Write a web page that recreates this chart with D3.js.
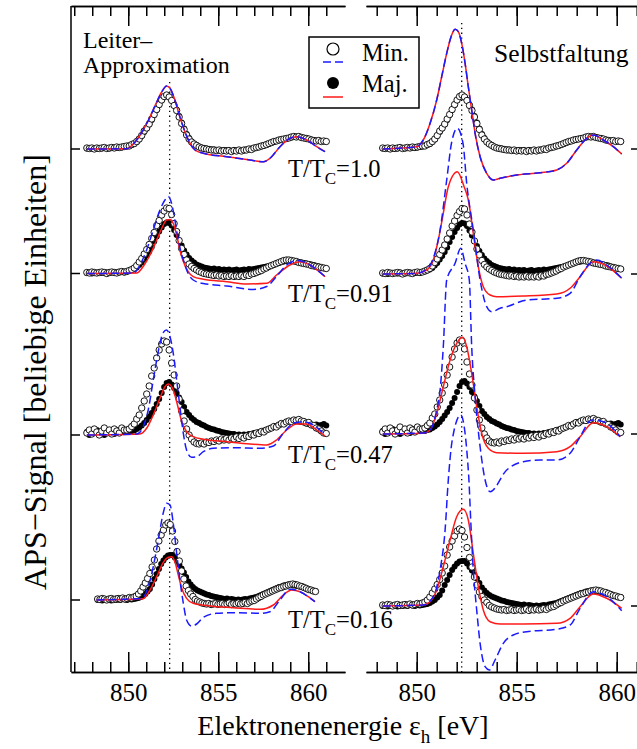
<!DOCTYPE html>
<html><head><meta charset="utf-8">
<script src="https://cdn.jsdelivr.net/npm/d3@7"></script>
<style>
body{margin:0;background:#fff}
svg{display:block}
text{font-family:"Liberation Serif","Times New Roman",serif;fill:#000}
</style>
</head><body>
<svg id="c" width="637" height="749"></svg>
<script>
// ---------------- DATA ----------------
const rowLabels = ["1.0", "0.91", "0.47", "0.16"];
const rowOffsetsLeft = [52.3, 39.85, 23.7, 7.2];
const rowOffsetsRight = [52.3, 39.8, 23.8, 6.6];
const majorTicks = [850, 855, 860];
const minorTicksLeft = [847,848,849,850,851,852,853,854,855,856,857,858,859,860,861];
const minorTicksRight = [848,849,850,851,852,853,854,855,856,857,858,859,860,861];
const refEnergyLeft = 852.3, refEnergyRight = 852.25;
// energy span of the measured points (first, last point) per row
const expRangeLeft = [[847.7, 861.0], [847.7, 861.0], [847.7, 861.0], [848.3, 860.4]];
const expRangeRight = [[848.3, 860.2], [848.3, 860.2], [848.3, 860.2], [848.3, 860.2]];

// measured spectra (evenly spaced in energy), minority (open) / majority (filled)
const minExp1 = [0.1,0.05,0.1,0.0,0.1,0.05,0.1,0.15,0.05,0.1, 0.15,0.1,0.2,0.15,0.2,0.25,0.3,0.3,0.45,0.55, 0.75,1.0,1.35,1.8,2.1,2.5,3.0,3.45,3.95,4.45, 4.9,5.25,5.4,5.2,4.85,4.35,3.85,3.2,2.55,1.95, 1.4,1.0,0.7,0.5,0.35,0.2,0.1,0.05,0.0,-0.05, -0.1,-0.1,-0.15,-0.1,-0.2,-0.15,-0.2,-0.15,-0.25,-0.15, -0.2,-0.1,-0.2,-0.1,-0.1,0.0,-0.05,0.1,0.15,0.2, 0.3,0.35,0.45,0.55,0.65,0.75,0.8,0.9,0.95,1.0, 1.05,1.1,1.2,1.25,1.2,1.25,1.15,1.1,1.05,1.0, 0.9,0.85,0.8,0.85,0.75,0.8,0.75];
const majExp1 = [0.05,0.1,0.05,0.1,0.0,0.1,0.05,0.1,0.1,0.05, 0.1,0.15,0.1,0.2,0.15,0.2,0.25,0.35,0.4,0.5, 0.7,0.95,1.3,1.7,2.05,2.45,2.9,3.4,3.9,4.4, 4.85,5.2,5.35,5.25,4.9,4.45,3.95,3.3,2.65,2.05, 1.5,1.1,0.75,0.55,0.4,0.25,0.15,0.1,0.05,0.0, -0.05,-0.05,-0.1,-0.15,-0.1,-0.2,-0.1,-0.15,-0.2,-0.1, -0.15,-0.15,-0.1,-0.15,-0.05,-0.05,0.05,0.05,0.15,0.25, 0.25,0.4,0.4,0.5,0.6,0.7,0.8,0.85,0.95,1.0, 1.0,1.1,1.15,1.2,1.25,1.2,1.2,1.1,1.1,1.0, 0.95,0.9,0.85,0.8,0.8,0.75,0.75];
const minExp2 = [0.1,0.05,0.15,0.1,0.05,0.1,0.15,0.1,0.0,0.1, 0.15,0.1,0.05,0.15,0.2,0.15,0.2,0.3,0.4,0.55, 0.8,1.15,1.5,1.95,2.4,2.9,3.5,4.1,4.8,5.3, 5.85,6.25,6.55,6.5,5.9,5.0,4.2,3.3,2.5,1.9, 1.35,0.95,0.7,0.5,0.35,0.2,0.1,0.0,-0.05,-0.1, -0.15,-0.2,-0.15,-0.25,-0.2,-0.3,-0.25,-0.3,-0.2,-0.3, -0.25,-0.3,-0.2,-0.3,-0.15,-0.2,-0.05,0.0,0.1,0.2, 0.3,0.45,0.55,0.7,0.8,0.9,1.0,1.1,1.2,1.3, 1.35,1.35,1.3,1.25,1.2,1.1,1.05,1.0,0.95,0.9, 0.8,0.75,0.7,0.65,0.6,0.55,0.5];
const majExp2 = [0.05,0.1,0.0,0.1,0.05,0.1,0.05,0.15,0.1,0.05, 0.1,0.15,0.1,0.1,0.15,0.1,0.2,0.25,0.35,0.45, 0.6,0.85,1.1,1.45,1.8,2.2,2.65,3.2,3.7,4.2, 4.6,4.95,5.1,5.05,4.8,4.35,3.85,3.3,2.8,2.3, 1.9,1.55,1.3,1.1,0.9,0.8,0.7,0.6,0.55,0.5, 0.45,0.5,0.4,0.45,0.35,0.4,0.35,0.4,0.3,0.35, 0.4,0.3,0.35,0.4,0.35,0.45,0.4,0.45,0.5,0.55, 0.6,0.65,0.7,0.75,0.8,0.9,1.0,1.05,1.15,1.2, 1.25,1.3,1.3,1.25,1.2,1.15,1.1,1.05,1.0,0.95, 0.9,0.85,0.75,0.7,0.6,0.55,0.5];
const minExp3 = [0.2,0.5,0.1,0.6,0.3,0.0,0.4,0.7,0.2,0.5, 0.1,0.6,0.4,0.2,0.7,0.5,0.5,0.6,0.85,1.1, 1.6,2.0,2.7,3.4,4.1,4.9,5.9,6.7,7.7,8.5, 9.1,9.4,9.3,8.5,7.2,6.0,4.9,3.6,2.4,1.4, 0.6,0.0,-0.4,-0.7,-0.85,-0.9,-0.8,-0.9,-0.7,-0.75, -0.6,-0.65,-0.5,-0.6,-0.4,-0.5,-0.35,-0.5,-0.3,-0.4, -0.2,-0.35,-0.15,-0.3,-0.1,-0.15,0.05,0.0,0.2,0.15, 0.35,0.3,0.5,0.6,0.7,0.85,0.8,1.0,1.15,1.1, 1.3,1.4,1.35,1.5,1.45,1.55,1.4,1.35,1.2,1.25, 1.0,0.95,0.7,0.6,0.4,0.2,0.15];
const majExp3 = [0.3,0.0,0.4,0.2,0.5,0.1,0.3,0.0,0.4,0.2, 0.3,0.1,0.5,0.2,0.3,0.4,0.3,0.3,0.4,0.45, 0.6,0.75,0.95,1.2,1.5,1.85,2.2,2.6,3.1,3.6, 4.2,4.8,5.2,5.3,5.05,4.7,4.2,3.75,3.3,2.8, 2.3,2.0,1.7,1.5,1.3,1.2,1.05,0.95,0.8,0.7, 0.6,0.55,0.45,0.4,0.3,0.25,0.2,0.15,0.1,0.1, 0.0,0.05,-0.05,0.05,0.0,0.1,0.05,0.2,0.15,0.3, 0.35,0.45,0.5,0.6,0.7,0.8,0.9,1.0,1.1,1.2, 1.3,1.35,1.4,1.45,1.4,1.35,1.3,1.25,1.15,1.1, 1.05,1.0,1.05,0.95,1.0,1.1,0.95];
const minExp4 = [0.1,0.05,0.15,0.1,0.0,0.1,0.15,0.05,0.1,0.15, 0.1,0.2,0.1,0.15,0.25,0.2,0.3,0.4,0.6,0.9, 1.3,1.7,2.15,2.65,3.3,4.0,5.1,5.9,6.5,7.0, 7.5,7.7,7.55,6.9,5.85,4.85,3.9,2.9,2.1,1.4, 0.95,0.6,0.35,0.05,-0.1,-0.2,-0.3,-0.35,-0.4,-0.35, -0.45,-0.4,-0.35,-0.45,-0.4,-0.35,-0.45,-0.4,-0.3,-0.45, -0.35,-0.4,-0.3,-0.4,-0.35,-0.25,-0.35,-0.2,-0.1,-0.05, 0.1,0.25,0.35,0.5,0.6,0.7,0.8,0.9,1.0,1.1, 1.2,1.25,1.35,1.4,1.5,1.55,1.6,1.55,1.5,1.4, 1.35,1.25,1.15,1.05,1.0,0.9,0.85];
const majExp4 = [0.0,0.05,-0.05,0.0,0.05,0.0,-0.05,0.05,0.0,0.05, 0.0,0.1,0.05,0.0,0.1,0.05,0.1,0.15,0.2,0.3, 0.45,0.6,0.85,1.1,1.55,2.1,2.6,3.1,3.6,3.95, 4.25,4.45,4.5,4.5,4.25,3.9,3.55,3.15,2.75,2.3, 1.85,1.55,1.3,1.1,0.95,0.85,0.75,0.65,0.55,0.5, 0.4,0.35,0.3,0.25,0.2,0.15,0.1,0.15,0.05,0.1, 0.05,0.0,0.05,0.0,0.05,0.1,0.05,0.15,0.2,0.25, 0.3,0.4,0.5,0.6,0.7,0.8,0.9,1.0,1.1,1.2, 1.3,1.35,1.45,1.5,1.55,1.5,1.45,1.45,1.4,1.35, 1.3,1.2,1.15,1.05,1.0,0.95,0.9];

// theory, left panel (Leiter-Approximation)
const thL1E = [847.7,849.9,850.47,850.83,851.21,851.58,851.86,852.13,852.32,852.59,852.87,853.15,853.43,853.71,854.17,855.47,856.76,857.5,857.87,858.43,858.98,859.36,859.91,860.47,860.93];
const thL1V = [0,0.03,0.9,1.9,3.2,4.7,5.7,6.3,6.07,4.9,3.2,1.73,0.57,-0.1,-0.43,-0.77,-1.1,-1.27,-0.93,0.23,1.07,1.23,0.9,0.23,-0.27];
const thL2minE = [847.7,850.28,850.65,851.02,851.39,851.76,852.04,852.22,852.41,852.59,852.78,853.06,853.33,853.61,854.17,855.47,856.94,857.69,858.24,858.8,859.44,860.09,860.93];
const thL2minV = [0,0.05,0.85,2.35,4.35,6.35,7.35,7.7,7.0,5.35,3.35,1.35,0,-0.65,-1.0,-1.25,-1.6,-1.3,-0.3,0.85,1.3,0.85,-0.3];
const thL2majE = [847.7,850.47,850.83,851.21,851.58,851.86,852.13,852.32,852.5,852.69,852.87,853.06,853.33,853.61,854.17,855.47,856.58,857.69,858.24,858.98,859.54,860.09,860.93];
const thL2majV = [0,0.05,0.7,1.85,3.35,4.5,5.35,5.4,5.0,3.85,2.35,1.2,0.18,-0.32,-0.58,-0.82,-1.05,-0.98,-0.15,0.85,1.18,0.85,-0.32];
const thL3minE = [847.7,850.47,850.83,851.11,851.39,851.58,851.76,851.94,852.13,852.32,852.5,852.69,852.87,853.06,853.24,853.52,853.8,854.17,854.72,855.83,857.32,858.06,858.61,859.17,859.72,860.28,860.93];
const thL3minV = [0,0.1,0.83,2.5,5.5,7.5,9.17,10.23,10.5,9.83,8.17,5.5,2.83,0.17,-1.5,-2.23,-2.17,-1.67,-1.33,-1.27,-1.33,-1.1,0.17,1.17,1.33,1.0,0];
const thL3majE = [847.7,850.65,851.02,851.39,851.76,852.04,852.22,852.41,852.59,852.78,852.97,853.24,853.61,854.17,855.47,856.76,857.69,858.24,858.8,859.36,859.91,860.47,860.93];
const thL3majV = [0,0.1,0.67,2.0,3.67,4.83,5.1,4.83,4.0,2.67,1.33,0.33,-0.17,-0.43,-0.67,-0.9,-1.0,-0.5,0.5,1.1,1.1,0.5,-0.1];
const thL4minE = [848.24,850.74,851.11,851.39,851.67,851.94,852.13,852.32,852.5,852.69,852.87,853.06,853.24,853.52,853.8,854.17,854.91,856.02,857.32,857.87,858.43,858.98,859.54,860.0,860.37];
const thL4minV = [0,0.17,1.33,3.33,6.0,8.67,9.67,9.5,7.67,4.67,2.0,-0.33,-2.0,-2.6,-2.4,-1.73,-1.33,-1.27,-1.33,-1.17,0,1.07,0.83,0.33,-0.17];
const thL4majE = [848.24,850.83,851.21,851.58,851.94,852.22,852.41,852.59,852.78,852.97,853.24,853.61,854.54,855.83,857.32,858.06,858.61,859.08,859.54,860.0,860.37];
const thL4majV = [0,0.13,1.0,2.33,3.73,4.27,4.33,3.83,2.5,1.17,0.17,-0.33,-0.6,-0.77,-0.93,-0.5,0.5,1.0,0.83,0.33,-0.17];

// theory, right panel (Selbstfaltung)
const thR1E = [848.3,850.0,850.33,850.67,851.0,851.25,851.5,851.75,851.92,852.08,852.25,852.42,852.58,852.75,852.92,853.17,853.5,853.83,854.17,855.0,856.17,857.0,857.5,858.0,858.5,858.83,859.33,859.83,860.25];
const thR1V = [0,0.23,0.9,2.57,4.9,7.23,9.57,11.4,11.97,11.73,10.57,8.57,6.23,3.9,1.57,-0.77,-2.43,-3.1,-2.93,-2.6,-2.37,-2.1,-1.43,-0.1,1.07,1.4,0.9,0.23,-0.5];
const thR2minE = [848.3,850.0,850.5,850.83,851.17,851.5,851.75,852.03,852.32,852.5,852.83,853.17,853.5,853.75,854.17,854.5,855.5,857.0,857.67,858.17,858.67,859.0,859.5,860.25];
const thR2minV = [0,0.07,0.47,1.57,4.4,9.4,13.2,14.57,13.0,9.07,4.4,-0.6,-3.27,-3.77,-3.43,-3.27,-2.6,-2.43,-1.93,-0.27,1.07,1.4,0.9,-0.43];
const thR2majE = [848.3,850.0,850.5,850.83,851.08,851.33,851.58,852.03,852.37,852.58,852.83,853.08,853.33,853.67,854.0,855.33,857.0,857.67,858.17,858.83,859.5,860.25];
const thR2majV = [0,0.07,0.4,1.4,3.4,6.07,8.73,10.23,8.73,7.4,4.07,0.73,-1.27,-2.1,-2.27,-2.2,-2.0,-1.43,-0.27,1.23,0.8,-0.43];
const thR3minE = [848.3,850.33,850.67,851.0,851.17,851.33,851.5,851.92,852.2,852.42,852.63,852.75,852.92,853.17,853.42,853.67,854.5,855.33,856.17,857.0,857.67,858.17,858.75,859.33,860.17];
const thR3minV = [0,0.1,0.4,2.4,4.4,8.73,15.4,17.07,18.57,17.07,15.4,8.73,3.73,-1.27,-4.6,-5.77,-3.6,-2.77,-2.6,-2.6,-1.93,-0.27,1.4,1.23,-0.27];
const thR3majE = [848.3,850.33,850.67,851.0,851.33,851.67,852.0,852.3,852.5,852.75,853.0,853.25,853.58,854.0,855.33,857.0,857.67,858.17,858.83,859.5,860.17];
const thR3majV = [0,0.07,0.4,2.07,4.73,7.4,9.07,9.67,8.73,6.07,2.73,0.07,-1.43,-1.87,-1.93,-1.77,-1.27,-0.27,1.13,0.73,-0.27];
const thR4minE = [848.3,850.33,850.83,851.17,851.42,851.58,851.77,852.2,852.6,852.7,852.83,853.0,853.17,853.42,853.63,853.92,854.33,854.83,855.5,857.0,857.67,858.17,858.83,859.5,860.25];
const thR4minV = [0,0.1,0.93,3.6,7.6,12.6,16.5,19.1,13.0,8.6,3.6,-0.4,-3.73,-6.07,-6.4,-5.4,-3.73,-2.9,-2.57,-2.33,-1.9,-0.23,1.43,0.93,-0.47];
const thR4majE = [848.3,850.33,850.67,851.0,851.33,851.67,852.0,852.33,852.58,852.83,853.08,853.33,853.67,854.17,855.33,857.0,857.67,858.17,858.83,859.5,860.25];
const thR4majV = [0,0.1,0.43,1.6,3.93,6.6,8.93,9.67,8.6,5.27,1.93,-0.4,-1.57,-1.8,-1.8,-1.73,-1.23,-0.07,1.2,0.77,-0.23];

// ---------------- CHART ----------------
const FONT = "'Liberation Serif', 'Times New Roman', serif";
const minExp = [minExp1, minExp2, minExp3, minExp4];
const majExp = [majExp1, majExp2, majExp3, majExp4];
const theoryLeft = [
  {minE: thL1E, minV: thL1V, majE: thL1E, majV: thL1V},
  {minE: thL2minE, minV: thL2minV, majE: thL2majE, majV: thL2majV},
  {minE: thL3minE, minV: thL3minV, majE: thL3majE, majV: thL3majV},
  {minE: thL4minE, minV: thL4minV, majE: thL4majE, majV: thL4majV}];
const theoryRight = [
  {minE: thR1E, minV: thR1V, majE: thR1E, majV: thR1V},
  {minE: thR2minE, minV: thR2minV, majE: thR2majE, majV: thR2majV},
  {minE: thR3minE, minV: thR3minV, majE: thR3majE, majV: thR3majV},
  {minE: thR4minE, minV: thR4minV, majE: thR4majE, majV: thR4majV}];

const svg = d3.select("#c");
svg.append("rect").attr("width", 637).attr("height", 749).attr("fill", "#fff");

const y = d3.scaleLinear().domain([0, 66.6]).range([672, 6]);
const xL = d3.scaleLinear().domain([846.82, 862.04]).range([71, 345]);
const xR = d3.scaleLinear().domain([847.465, 861.165]).range([366, 640]);

const BLUE = "#1a1aff", RED = "#ff1a1a";

function frameAxes(x, minor) {
  const gs = [];
  gs.push(svg.append("g").attr("transform", "translate(0,672)")
    .call(d3.axisBottom(x).tickValues(minor).tickSize(-10).tickSizeOuter(0).tickFormat("")));
  const lab = svg.append("g").attr("transform", "translate(0,672)")
    .call(d3.axisBottom(x).tickValues(majorTicks).tickSize(-20).tickSizeOuter(0).tickPadding(11).tickFormat(d3.format("d")));
  gs.push(lab);
  gs.push(svg.append("g").attr("transform", "translate(0,6)")
    .call(d3.axisTop(x).tickValues(minor).tickSize(-10).tickSizeOuter(0).tickFormat("")));
  gs.push(svg.append("g").attr("transform", "translate(0,6)")
    .call(d3.axisTop(x).tickValues(majorTicks).tickSize(-20).tickSizeOuter(0).tickFormat("")));
  gs.forEach(g => {
    g.attr("font-family", FONT).attr("font-size", 25);
    g.selectAll("path,line").attr("stroke", "#000").attr("stroke-width", 1.5);
  });
  lab.selectAll("text").attr("fill", "#000").style("font-family", FONT);
}
frameAxes(xL, minorTicksLeft);
frameAxes(xR, minorTicksRight);

// left vertical axis line
svg.append("line").attr("x1", 71).attr("x2", 71).attr("y1", y(66.6)).attr("y2", y(0))
  .attr("stroke", "#000").attr("stroke-width", 1.5);
// baseline ticks
svg.selectAll(".ytl").data(rowOffsetsLeft).enter().append("line")
  .attr("x1", 71).attr("x2", 80).attr("y1", d => y(d)).attr("y2", d => y(d))
  .attr("stroke", "#000").attr("stroke-width", 1.5);
svg.selectAll(".ytr").data(rowOffsetsRight).enter().append("line")
  .attr("x1", 631).attr("x2", 640).attr("y1", d => y(d)).attr("y2", d => y(d))
  .attr("stroke", "#000").attr("stroke-width", 1.5);

// dotted reference lines
svg.append("line").attr("x1", xL(refEnergyLeft)).attr("x2", xL(refEnergyLeft))
  .attr("y1", 82).attr("y2", 672).attr("stroke", "#000").attr("stroke-width", 1.3)
  .attr("stroke-dasharray", "1.3,3.5");
svg.append("line").attr("x1", xR(refEnergyRight)).attr("x2", xR(refEnergyRight))
  .attr("y1", 23).attr("y2", 672).attr("stroke", "#000").attr("stroke-width", 1.3)
  .attr("stroke-dasharray", "1.3,3.5");

function drawPanel(x, offsets, ranges, theory) {
  offsets.forEach((off, r) => {
    const n = minExp[r].length;
    const idx = d3.scaleLinear().domain([0, n - 1]).range(ranges[r]);
    const g = svg.append("g");
    g.selectAll(".maj").data(majExp[r]).enter().append("circle")
      .attr("cx", (d, i) => x(idx(i))).attr("cy", d => y(off + d)).attr("r", 3)
      .attr("fill", "#000");
    g.selectAll(".min").data(minExp[r]).enter().append("circle")
      .attr("cx", (d, i) => x(idx(i))).attr("cy", d => y(off + d)).attr("r", 3.2)
      .attr("fill", "#fff").attr("stroke", "#000").attr("stroke-width", 0.9);
    const t = theory[r];
    const line = d3.line().x(d => x(d[0])).y(d => y(off + d[1])).curve(d3.curveMonotoneX);
    g.append("path").attr("d", line(d3.zip(t.majE, t.majV)))
      .attr("fill", "none").attr("stroke", RED).attr("stroke-width", 1.5);
    g.append("path").attr("d", line(d3.zip(t.minE, t.minV)))
      .attr("fill", "none").attr("stroke", BLUE).attr("stroke-width", 1.5)
      .attr("stroke-dasharray", "8,4");
  });
}
drawPanel(xL, rowOffsetsLeft, expRangeLeft, theoryLeft);
drawPanel(xR, rowOffsetsRight, expRangeRight, theoryRight);

function txt(x, yy, size) {
  return svg.append("text").attr("x", x).attr("y", yy).attr("font-size", size)
    .style("font-family", FONT).attr("fill", "#000");
}

// row labels T/T_C = ...
const labelBaselines = [177, 302, 463, 628];
rowLabels.forEach((lab, r) => {
  const t = txt(288, labelBaselines[r], 24.5);
  t.append("tspan").text("T/T");
  t.append("tspan").attr("dy", 7).attr("font-size", 17).text("C");
  t.append("tspan").attr("dy", -7).text("=" + lab);
});

// panel titles
txt(83, 48, 24).text("Leiter–");
txt(83, 73, 24).text("Approximation");
txt(494, 62, 25.5).text("Selbstfaltung");

// legend
svg.append("rect").attr("x", 309).attr("y", 37).attr("width", 110).attr("height", 71)
  .attr("fill", "#fff").attr("stroke", "#000").attr("stroke-width", 1.5);
svg.append("circle").attr("cx", 333).attr("cy", 49).attr("r", 6)
  .attr("fill", "#fff").attr("stroke", "#000").attr("stroke-width", 1.2);
svg.append("line").attr("x1", 323).attr("x2", 343).attr("y1", 62).attr("y2", 62)
  .attr("stroke", BLUE).attr("stroke-width", 1.5).attr("stroke-dasharray", "8,4");
svg.append("circle").attr("cx", 333).attr("cy", 83).attr("r", 6).attr("fill", "#000");
svg.append("line").attr("x1", 323).attr("x2", 343).attr("y1", 97).attr("y2", 97)
  .attr("stroke", RED).attr("stroke-width", 1.5);
txt(362, 61, 24.5).text("Min.");
txt(362, 92, 24.5).text("Maj.");

// axis titles
const xt = txt(343, 735, 28).attr("text-anchor", "middle");
xt.append("tspan").text("Elektronenenergie ε");
xt.append("tspan").attr("dy", 8).attr("font-size", 19).text("h");
xt.append("tspan").attr("dy", -8).text(" [eV]");
svg.append("text").attr("transform", "translate(46,372) rotate(-90)")
  .style("font-family", FONT).attr("fill", "#000")
  .attr("font-size", 32).attr("text-anchor", "middle").text("APS−Signal [beliebige Einheiten]");
</script>
</body></html>
